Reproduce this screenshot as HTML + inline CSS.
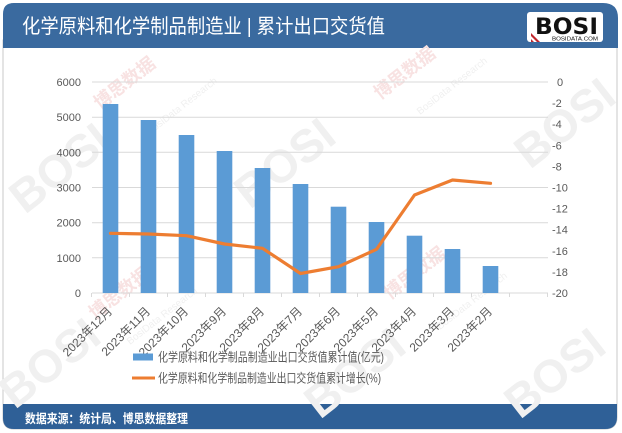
<!DOCTYPE html>
<html><head><meta charset="utf-8"><style>
html,body{margin:0;padding:0;background:#fff;}
svg{display:block;}
text{font-family:"Liberation Sans","Noto Sans CJK SC",sans-serif;}
</style></head><body>
<svg width="622" height="433" viewBox="0 0 622 433" xmlns="http://www.w3.org/2000/svg">
<rect x="0" y="0" width="622" height="433" fill="#fff"/>
<!-- frame -->
<path d="M3 40 L3 418 Q3 429 14 429 L605 429 Q617 429 617 417 L617 40 Z" fill="#fff" stroke="#c8c8c8" stroke-width="1"/>
<!-- header -->
<path d="M3 48 L3 14 Q3 3 14 3 L603 3 Q618 3 618 18 L618 48 Z" fill="#3a6a9f"/>
<text x="22" y="33" font-size="20" fill="#fff" textLength="363" lengthAdjust="spacingAndGlyphs">化学原料和化学制品制造业 | 累计出口交货值</text>
<!-- logo -->
<rect x="527" y="12" width="76" height="30" rx="3" fill="#fff"/>
<text x="535" y="34" font-size="22" font-weight="bold" fill="#111" textLength="63" lengthAdjust="spacingAndGlyphs" style="font-family:'DejaVu Sans',sans-serif">BOSI</text>
<text x="552" y="40.5" font-size="5" fill="#111" textLength="46" lengthAdjust="spacingAndGlyphs">BOSIDATA.COM</text>
<path d="M531 36 L537 42 L540 42 L531 33 Z M531 39 L534 42 L531 42 Z" fill="#c0272d"/>
<!-- footer -->
<path d="M3 404 L617 404 L617 417 Q617 429 605 429 L14 429 Q3 429 3 418 Z" fill="#2f6097"/>
<text x="25" y="423" font-size="12.5" font-weight="bold" fill="#fff" textLength="163" lengthAdjust="spacingAndGlyphs">数据来源：统计局、博思数据整理</text>

<!-- watermarks -->
<g font-weight="bold" fill="#f0f0f0" font-size="46" style="font-family:'DejaVu Sans',sans-serif">
<text transform="translate(25,215) rotate(-38)">BOSI</text>
<text transform="translate(250,210) rotate(-38)">BOSI</text>
<text transform="translate(530,170) rotate(-38)">BOSI</text>
<text transform="translate(15,410) rotate(-38)">BOSI</text>
<text transform="translate(320,420) rotate(-38)">BOSI</text>
<text transform="translate(520,420) rotate(-38)">BOSI</text>
</g>
<g fill="#f8e2e2" font-size="18" font-weight="bold">
<text transform="translate(100,110) rotate(-38)">博思数据</text>
<text transform="translate(390,300) rotate(-38)">博思数据</text>
<text transform="translate(95,320) rotate(-38)">博思数据</text>
<text transform="translate(380,100) rotate(-38)">博思数据</text>
</g>
<g fill="#f0f0f0" font-size="10">
<text transform="translate(150,135) rotate(-38)">BosiData Research</text>
<text transform="translate(440,330) rotate(-38)">BosiData Research</text>
<text transform="translate(130,345) rotate(-38)">BosiData Research</text>
<text transform="translate(420,115) rotate(-38)">BosiData Research</text>
</g>

<!-- gridlines -->
<g stroke="#d9d9d9" stroke-width="1">
<line x1="92" y1="82" x2="548" y2="82"/>
<line x1="92" y1="117.2" x2="548" y2="117.2"/>
<line x1="92" y1="152.3" x2="548" y2="152.3"/>
<line x1="92" y1="187.5" x2="548" y2="187.5"/>
<line x1="92" y1="222.7" x2="548" y2="222.7"/>
<line x1="92" y1="257.8" x2="548" y2="257.8"/>
<line x1="92" y1="293" x2="548" y2="293"/>
<line x1="91.5" y1="293" x2="91.5" y2="297"/>
<line x1="129.5" y1="293" x2="129.5" y2="297"/>
<line x1="167.5" y1="293" x2="167.5" y2="297"/>
<line x1="205.5" y1="293" x2="205.5" y2="297"/>
<line x1="243.5" y1="293" x2="243.5" y2="297"/>
<line x1="281.5" y1="293" x2="281.5" y2="297"/>
<line x1="319.5" y1="293" x2="319.5" y2="297"/>
<line x1="357.5" y1="293" x2="357.5" y2="297"/>
<line x1="395.5" y1="293" x2="395.5" y2="297"/>
<line x1="433.5" y1="293" x2="433.5" y2="297"/>
<line x1="471.5" y1="293" x2="471.5" y2="297"/>
<line x1="509.5" y1="293" x2="509.5" y2="297"/>
<line x1="547.5" y1="293" x2="547.5" y2="297"/>
</g>

<!-- left axis labels -->
<g font-size="11" fill="#595959" text-anchor="end">
<text x="81" y="86">6000</text>
<text x="81" y="121.2">5000</text>
<text x="81" y="156.3">4000</text>
<text x="81" y="191.5">3000</text>
<text x="81" y="226.7">2000</text>
<text x="81" y="261.8">1000</text>
<text x="81" y="297">0</text>
</g>
<!-- right axis labels -->
<g font-size="11" fill="#595959">
<text x="557" y="86">0</text>
<text x="552" y="107.1">-2</text>
<text x="552" y="128.2">-4</text>
<text x="552" y="149.3">-6</text>
<text x="552" y="170.4">-8</text>
<text x="552" y="191.5">-10</text>
<text x="552" y="212.6">-12</text>
<text x="552" y="233.7">-14</text>
<text x="552" y="254.8">-16</text>
<text x="552" y="275.9">-18</text>
<text x="552" y="297">-20</text>
</g>

<!-- bars -->
<g fill="#5b9bd5">
<rect x="102.7" y="104" width="15.6" height="189"/>
<rect x="140.7" y="120" width="15.6" height="173"/>
<rect x="178.7" y="135" width="15.6" height="158"/>
<rect x="216.7" y="151" width="15.6" height="142"/>
<rect x="254.7" y="168" width="15.6" height="125"/>
<rect x="292.7" y="184" width="15.6" height="109"/>
<rect x="330.7" y="206.7" width="15.6" height="86.3"/>
<rect x="368.7" y="222" width="15.6" height="71"/>
<rect x="406.7" y="235.7" width="15.6" height="57.3"/>
<rect x="444.7" y="249" width="15.6" height="44"/>
<rect x="482.7" y="266" width="15.6" height="27"/>
</g>
<!-- line -->
<polyline points="110.5,233.3 148.5,234 186.5,235.7 224.5,244 262.5,248.3 300.5,273.5 338.5,266.7 376.5,249.3 414.5,195 452.5,180 490.5,183.3" fill="none" stroke="#ed7d31" stroke-width="3.2" stroke-linejoin="round" stroke-linecap="round"/>

<!-- x labels -->
<g font-size="12" fill="#595959" text-anchor="end">
<text transform="translate(110,309) rotate(-45)" dy="0.35em">2023年12月</text>
<text transform="translate(148,309) rotate(-45)" dy="0.35em">2023年11月</text>
<text transform="translate(186,309) rotate(-45)" dy="0.35em">2023年10月</text>
<text transform="translate(224,309) rotate(-45)" dy="0.35em">2023年9月</text>
<text transform="translate(262,309) rotate(-45)" dy="0.35em">2023年8月</text>
<text transform="translate(300,309) rotate(-45)" dy="0.35em">2023年7月</text>
<text transform="translate(338,309) rotate(-45)" dy="0.35em">2023年6月</text>
<text transform="translate(376,309) rotate(-45)" dy="0.35em">2023年5月</text>
<text transform="translate(414,309) rotate(-45)" dy="0.35em">2023年4月</text>
<text transform="translate(452,309) rotate(-45)" dy="0.35em">2023年3月</text>
<text transform="translate(490,309) rotate(-45)" dy="0.35em">2023年2月</text>
</g>

<!-- legend -->
<rect x="133" y="353.5" width="20" height="7" fill="#5b9bd5"/>
<text x="158" y="361.5" font-size="12.5" fill="#595959" textLength="226" lengthAdjust="spacingAndGlyphs">化学原料和化学制品制造业出口交货值累计值(亿元)</text>
<line x1="132" y1="378" x2="155" y2="378" stroke="#ed7d31" stroke-width="3"/>
<text x="158" y="382.5" font-size="12.5" fill="#595959" textLength="223" lengthAdjust="spacingAndGlyphs">化学原料和化学制品制造业出口交货值累计增长(%)</text>
</svg>
</body></html>
